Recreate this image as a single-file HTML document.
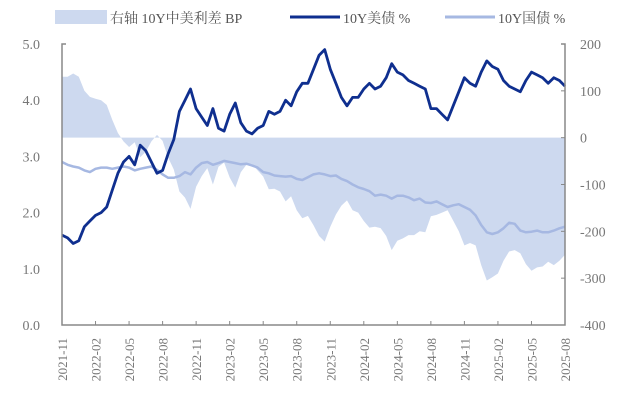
<!DOCTYPE html>
<html><head><meta charset="utf-8"><style>
body{margin:0;background:#fff;}
svg{display:block;font-family:"Liberation Serif","Noto Serif CJK SC","Noto Sans CJK SC",serif;}
</style></head><body>
<svg id="chart" width="621" height="411">
<g id="legend">
<rect x="55" y="10" width="52" height="14" fill="#cdd9ef"/>
<text x="110" y="23" font-size="14" fill="#555">右轴 10Y中美利差 BP</text>
<line x1="290" y1="17" x2="340" y2="17" stroke="#0f2f8f" stroke-width="3"/>
<text x="343" y="23" font-size="14" fill="#555">10Y美债 %</text>
<line x1="445" y1="17" x2="495" y2="17" stroke="#a6b8e2" stroke-width="3"/>
<text x="498" y="23" font-size="14" fill="#555">10Y国债 %</text>
</g>
<g id="plot"></g>
<g id="axes"></g>
</svg>
<script>
// half-monthly observations starting 2021-11
const us10y=[1.6,1.55,1.45,1.5,1.75,1.85,1.95,2.0,2.1,2.4,2.7,2.9,3.0,2.85,3.2,3.1,2.9,2.7,2.75,3.05,3.3,3.8,4.0,4.2,3.85,3.7,3.55,3.85,3.5,3.45,3.75,3.95,3.6,3.45,3.4,3.5,3.55,3.8,3.75,3.8,4.0,3.9,4.15,4.3,4.3,4.55,4.8,4.9,4.55,4.3,4.05,3.9,4.05,4.05,4.2,4.3,4.2,4.25,4.4,4.65,4.5,4.45,4.35,4.3,4.25,4.2,3.85,3.85,3.75,3.65,3.9,4.15,4.4,4.3,4.25,4.5,4.7,4.6,4.55,4.35,4.25,4.2,4.15,4.35,4.5,4.45,4.4,4.3,4.4,4.35,4.25];
const cn10y=[2.9,2.85,2.82,2.8,2.75,2.72,2.78,2.8,2.8,2.78,2.8,2.82,2.8,2.75,2.78,2.8,2.82,2.76,2.68,2.62,2.62,2.65,2.72,2.68,2.8,2.88,2.9,2.85,2.88,2.92,2.9,2.88,2.86,2.87,2.84,2.8,2.72,2.7,2.66,2.65,2.64,2.65,2.6,2.58,2.63,2.68,2.7,2.68,2.65,2.66,2.6,2.56,2.5,2.45,2.42,2.38,2.3,2.32,2.3,2.25,2.3,2.3,2.27,2.22,2.25,2.18,2.17,2.2,2.15,2.1,2.13,2.15,2.1,2.05,1.95,1.78,1.65,1.62,1.65,1.72,1.82,1.8,1.68,1.65,1.66,1.68,1.65,1.65,1.68,1.72,1.75];
const leftTicks=["0.0","1.0","2.0","3.0","4.0","5.0"];
const rightTicks=["-400","-300","-200","-100","0","100","200"];
const xTickLabels=["2021-11","2022-02","2022-05","2022-08","2022-11","2023-02","2023-05","2023-08","2023-11","2024-02","2024-05","2024-08","2024-11","2025-02","2025-05","2025-08"];
const xTickMonths=[0,3,6,9,12,15,18,21,24,27,30,33,36,39,42,45];

const NS="http://www.w3.org/2000/svg";
const X0=62,X1=565,Y0=325,Y1=44;
const xs=t=>X0+t*(X1-X0)/45;
const xi=i=>xs(i/2);
const yL=v=>Y0-v*(Y0-Y1)/5;
const yR=v=>Y0-(v+400)*(Y0-Y1)/600;
function mk(tag,attrs,parent){const e=document.createElementNS(NS,tag);for(const k in attrs)e.setAttribute(k,attrs[k]);parent.appendChild(e);return e;}
const plot=document.getElementById('plot'),axes=document.getElementById('axes');

const spread=cn10y.map((c,i)=>(c-us10y[i])*100);
let d=`M${xi(0)},${yR(0)}`;
spread.forEach((s,i)=>{d+=` L${xi(i).toFixed(1)},${yR(s).toFixed(1)}`;});
d+=` L${xi(spread.length-1)},${yR(0)} Z`;
const area=mk('path',{d:d,fill:'#cdd9ef'},plot);



function line(arr,color,w,name){
  const p=mk('path',{d:arr.map((v,i)=>(i?'L':'M')+xi(i).toFixed(1)+','+yL(v).toFixed(1)).join(' '),fill:'none',stroke:color,'stroke-width':w,'stroke-linejoin':'round'},plot);
  
  
}
line(cn10y,'#a6b8e2',2.5,'cn10y-line');
line(us10y,'#0f2f8f',2.8,'us10y-line');

const ax=mk('path',{d:`M${X0+4},${Y1} H${X0} V${Y0} H${X1} V${Y1} H${X1-4}`,fill:'none',stroke:'#888','stroke-width':1.5},axes);


leftTicks.forEach(t=>{
  const e=mk('text',{x:40,y:yL(+t)+5,'font-size':14,fill:'#777','text-anchor':'end'},axes);e.textContent=t;
  
  
});
rightTicks.forEach(t=>{
  const e=mk('text',{x:580,y:yR(+t)+5,'font-size':14,fill:'#777'},axes);e.textContent=t;
  
  
  mk('line',{x1:X1-4,x2:X1,y1:yR(+t),y2:yR(+t),stroke:'#888'},axes);
});
xTickLabels.forEach((t,i)=>{
  const x=xs(xTickMonths[i]);
  mk('line',{x1:x,x2:x,y1:Y0-4,y2:Y0,stroke:'#888'},axes);
  const e=mk('text',{x:0,y:0,'font-size':13,fill:'#777','text-anchor':'end',transform:`translate(${x+5},338) rotate(-90)`},axes);e.textContent=t;
  
  
});
</script>
</body></html>
